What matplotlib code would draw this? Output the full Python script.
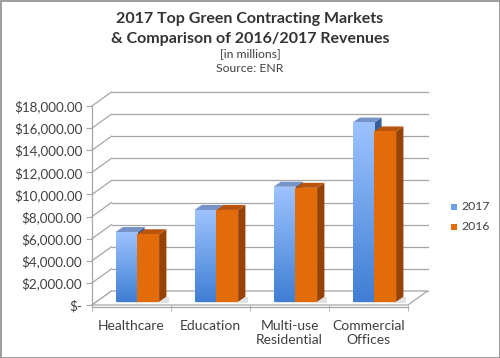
import numpy as np
import matplotlib
matplotlib.use('Agg')
import matplotlib.pyplot as plt
from matplotlib.patches import Polygon, Rectangle
from matplotlib.colors import LinearSegmentedColormap

plt.rcParams['font.family'] = ['Lato', 'DejaVu Sans']

# 数据
categories = ['Healthcare', 'Education', 'Multi-use\nResidential', 'Commercial\nOffices']
rev_2017 = [6300, 8300, 10400, 16200]
rev_2016 = [6100, 8300, 10300, 15400]
series_names = ['2017', '2016']
yticks = np.arange(0, 18001, 2000)
ytick_labels = ['$-'] + [f'${v:,.2f}' for v in yticks[1:]]

W, H = 500, 358
fig = plt.figure(figsize=(W / 100, H / 100), dpi=100)

# 前平面在图中的像素位置
x0_px, x1_px, y0_px, y1_px = 92, 408, 305, 106
ax = fig.add_axes([x0_px / W, 1 - y0_px / H, (x1_px - x0_px) / W, (y0_px - y1_px) / H])
ax.set_xlim(-0.5, 3.5)
ax.set_ylim(0, 18000)

sx = (x1_px - x0_px) / 4.0          # 每个类别的像素
sy = (y0_px - y1_px) / 18000.0      # 每单位数值的像素


def off(dx_px, dy_px):
    # 像素偏移 -> 数据偏移 (dy 向上为正)
    return dx_px / sx, dy_px / sy


grid_c = '#a6a6a6'
wdx, wdy = off(19.5, 14)
# 背墙网格线 + 侧墙斜线
for v in yticks:
    ax.plot([-0.5, -0.5 + wdx], [v, v + wdy], color=grid_c, lw=0.9, clip_on=False, zorder=1)
    ax.plot([-0.5 + wdx, 3.5 + wdx], [v + wdy, v + wdy], color=grid_c, lw=0.9, clip_on=False, zorder=1)
# 地板
floor = Polygon([(-0.5, 0), (3.5, 0), (3.5 + wdx, wdy), (-0.5 + wdx, wdy)], closed=True,
                facecolor='white', edgecolor=grid_c, lw=0.9, clip_on=False, zorder=1.5)
ax.add_patch(floor)

# 柱子
bw = 21.8 / sx
fdx, fdy = off(5.8, 3.3)      # 柱子前面相对前平面的偏移
bdx, bdy = off(7.3, 5.0)      # 柱子厚度
blue_cmap = LinearSegmentedColormap.from_list('b', ['#3f7ed3', '#9dc3ff'])
grad = np.linspace(0, 1, 256).reshape(-1, 1)

z = 3
for i in range(len(categories)):
    for j, (vals, name) in enumerate([(rev_2017, '2017'), (rev_2016, '2016')]):
        v = vals[i]
        left = i + fdx + (j - 1) * bw
        right = left + bw
        base = fdy
        top = base + v
        # 阴影
        sh = Polygon([(left + 0.03, base - 110), (right + bdx + 0.03, base - 110),
                      (right + bdx + 0.03, base + bdy), (left + 0.05, base + bdy)],
                     closed=True, facecolor='#e2e2e2', edgecolor='none', zorder=2)
        ax.add_patch(sh)
        if name == '2017':
            side_c, top_c = '#3a5f98', '#7593c6'
        else:
            side_c, top_c = '#974206', '#b9540f'
        side = Polygon([(right, base), (right + bdx, base + bdy), (right + bdx, top + bdy), (right, top)],
                       closed=True, facecolor=side_c, edgecolor='none', zorder=z)
        topf = Polygon([(left, top), (right, top), (right + bdx, top + bdy), (left + bdx, top + bdy)],
                       closed=True, facecolor=top_c, edgecolor='none', zorder=z)
        ax.add_patch(side)
        ax.add_patch(topf)
        if name == '2017':
            ax.imshow(grad, extent=[left, right, base, top], origin='lower', aspect='auto',
                      cmap=blue_cmap, zorder=z + 0.5)
        else:
            ax.add_patch(Rectangle((left, base), bw, v, facecolor='#e36c0a', edgecolor='none', zorder=z + 0.5))
        z += 1

ax.set_xlim(-0.5, 3.5)
ax.set_ylim(0, 18000)

# 坐标轴
for s in ['top', 'right', 'bottom']:
    ax.spines[s].set_visible(False)
ax.spines['left'].set_color(grid_c)
ax.spines['left'].set_linewidth(0.9)
ax.plot([-0.5, 3.5], [-150, -150], color=grid_c, lw=0.9, clip_on=False, zorder=1)
ax.set_yticks(yticks)
ax.set_yticklabels(ytick_labels)
ax.tick_params(axis='y', length=4, color=grid_c, labelsize=9.6, labelcolor='#404040', pad=3)
ax.set_xticks(range(4))
ax.set_xticklabels(categories)
ax.set_xticks(np.arange(-0.5, 4, 1), minor=True)
ax.tick_params(axis='x', which='major', length=0, labelsize=10, labelcolor='#404040', pad=11)
ax.tick_params(axis='x', which='minor', length=4, color=grid_c)
ax.patch.set_visible(False)

# 标题
fig.text(0.5, 1 - 19 / H, '2017 Top Green Contracting Markets', ha='center', va='center',
         fontsize=11.5, fontweight='bold', color='#333333')
fig.text(0.5, 1 - 38.5 / H, '& Comparison of 2016/2017 Revenues', ha='center', va='center',
         fontsize=11.5, fontweight='bold', color='#333333')
fig.text(0.5, 1 - 53.5 / H, '[in millions]', ha='center', va='center', fontsize=8.8, color='#404040')
fig.text(0.5, 1 - 68.5 / H, 'Source: ENR', ha='center', va='center', fontsize=8.8, color='#404040')

# 图例
leg_c = ['#6fa0e6', '#e36c0a']
for k, (name, c) in enumerate(zip(series_names, leg_c)):
    yy = 1 - (206.5 + 20 * k) / H
    fig.patches.append(Rectangle((451 / W, yy - 3 / H), 6 / W, 6 / H, transform=fig.transFigure,
                                 facecolor=c, edgecolor='none'))
    fig.text(461 / W, yy, name, ha='left', va='center', fontsize=8.8, color='#404040')

# 外框
fig.patches.append(Rectangle((0.5 / W, 0.5 / H), 1 - 1 / W, 1 - 1 / H, transform=fig.transFigure,
                             facecolor='none', edgecolor='#8c8c8c', lw=1.2))

plt.savefig('out.png', dpi=100)
